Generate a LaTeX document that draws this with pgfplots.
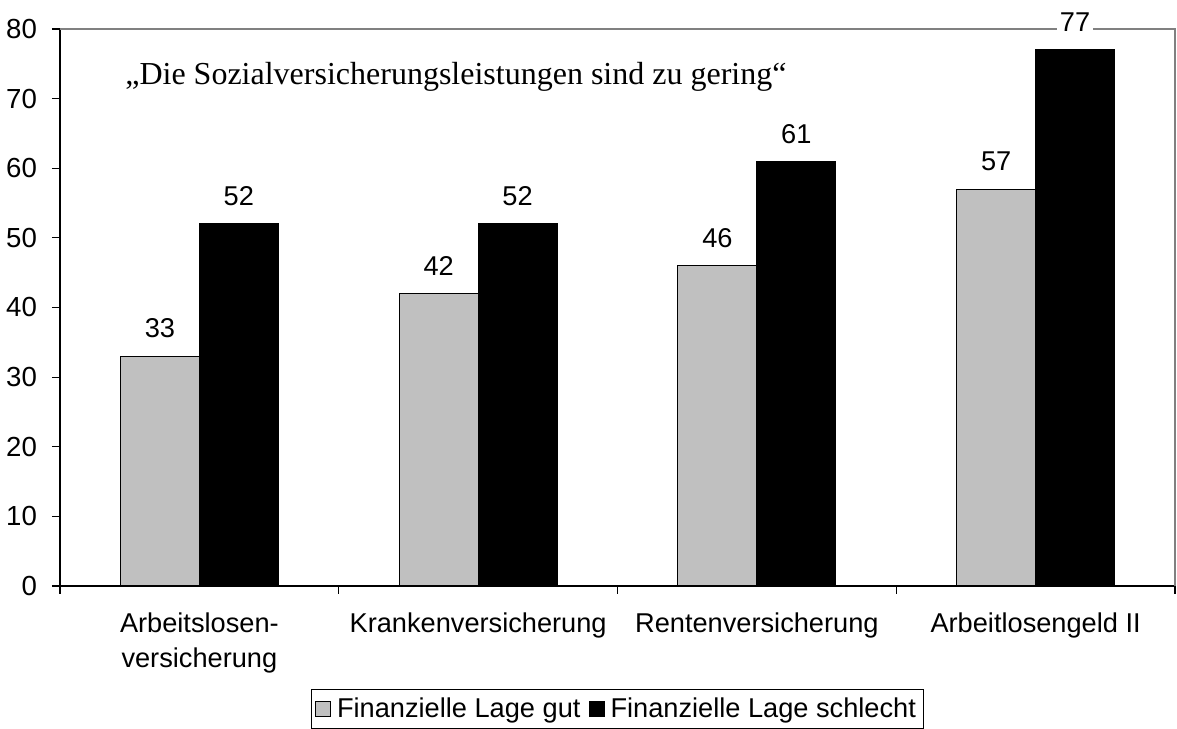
\documentclass[border=0pt]{standalone}
\usepackage{fontspec}
\setmainfont{Liberation Sans}
\newfontfamily\seriffont{Liberation Serif}
\usepackage{pgfplots}
\pgfplotsset{compat=1.18}
\definecolor{bargray}{HTML}{C0C0C0}
\definecolor{framegray}{HTML}{808080}
\begin{document}
\begin{tikzpicture}
\begin{axis}[
  name=ax,
  set layers=standard,
  scale only axis,
  width=557.5pt, height=278.5pt,
  xmin=-0.5, xmax=3.5, ymin=0, ymax=80,
  axis x line*=bottom, axis y line*=left,
  axis line style={black, line width=0.6pt},
  ytick={0,10,...,80},
  tick align=outside,
  major tick length=4pt,
  tick style={black, line width=0.6pt},
  xtick={-0.5,0.5,1.5,2.5,3.5},
  xticklabels={},
  extra x ticks={0,1,2,3},
  extra x tick labels={{Arbeitslosen-\\versicherung},Krankenversicherung,Rentenversicherung,Arbeitlosengeld II},
  extra x tick style={major tick length=0pt, tick label style={align=center, yshift=-10pt}},
  tick label style={font=\fontsize{13.6pt}{17.5pt}\selectfont},
  yticklabel style={font=\fontsize{13.8pt}{17pt}\selectfont, xshift=-4pt},
  /pgf/number format/assume math mode=true,
  ybar, bar width=0.283, 
  enlarge x limits=false,
  nodes near coords,
  nodes near coords style={font=\fontsize{13.6pt}{15pt}\selectfont, fill=white, inner sep=1.5pt, yshift=7.25pt},
  legend style={at={(0.5,0)}, anchor=north, yshift=-51.5pt, draw=black, line width=0.5pt,
     font=\fontsize{13.6pt}{15pt}\selectfont, inner sep=2pt, legend columns=2,
     /tikz/every odd column/.append style={column sep=1pt},
     /tikz/every even column/.append style={column sep=2pt}},
  legend image code/.code={\draw[#1, line width=0.5pt] (0pt,-3.75pt) rectangle (7.5pt,3.75pt);},
  clip=false,
]
\draw[framegray, line width=0.6pt, on layer=axis background] (rel axis cs:0,1) -- (rel axis cs:1,1) -- (rel axis cs:1,0);
\addplot[fill=bargray, draw=black, line width=0.5pt, bar shift=-0.1415] coordinates {(0,33) (1,42) (2,46) (3,57)};
\addplot[fill=black, draw=black, line width=0.5pt, bar shift=0.1415] coordinates {(0,52) (1,52) (2,61) (3,77)};
\legend{Finanzielle Lage gut, Finanzielle Lage schlecht}
\node[anchor=base west, inner sep=0pt, font=\seriffont\fontsize{16pt}{18pt}\selectfont] at (axis cs:-0.267,71.96) {„Die Sozialversicherungsleistungen sind zu gering“};
\end{axis}
\pgfresetboundingbox
\path ([shift={(-30pt,-71.5pt)}]ax.south west) rectangle ([shift={(1pt,14.5pt)}]ax.north east);
\end{tikzpicture}
\end{document}
